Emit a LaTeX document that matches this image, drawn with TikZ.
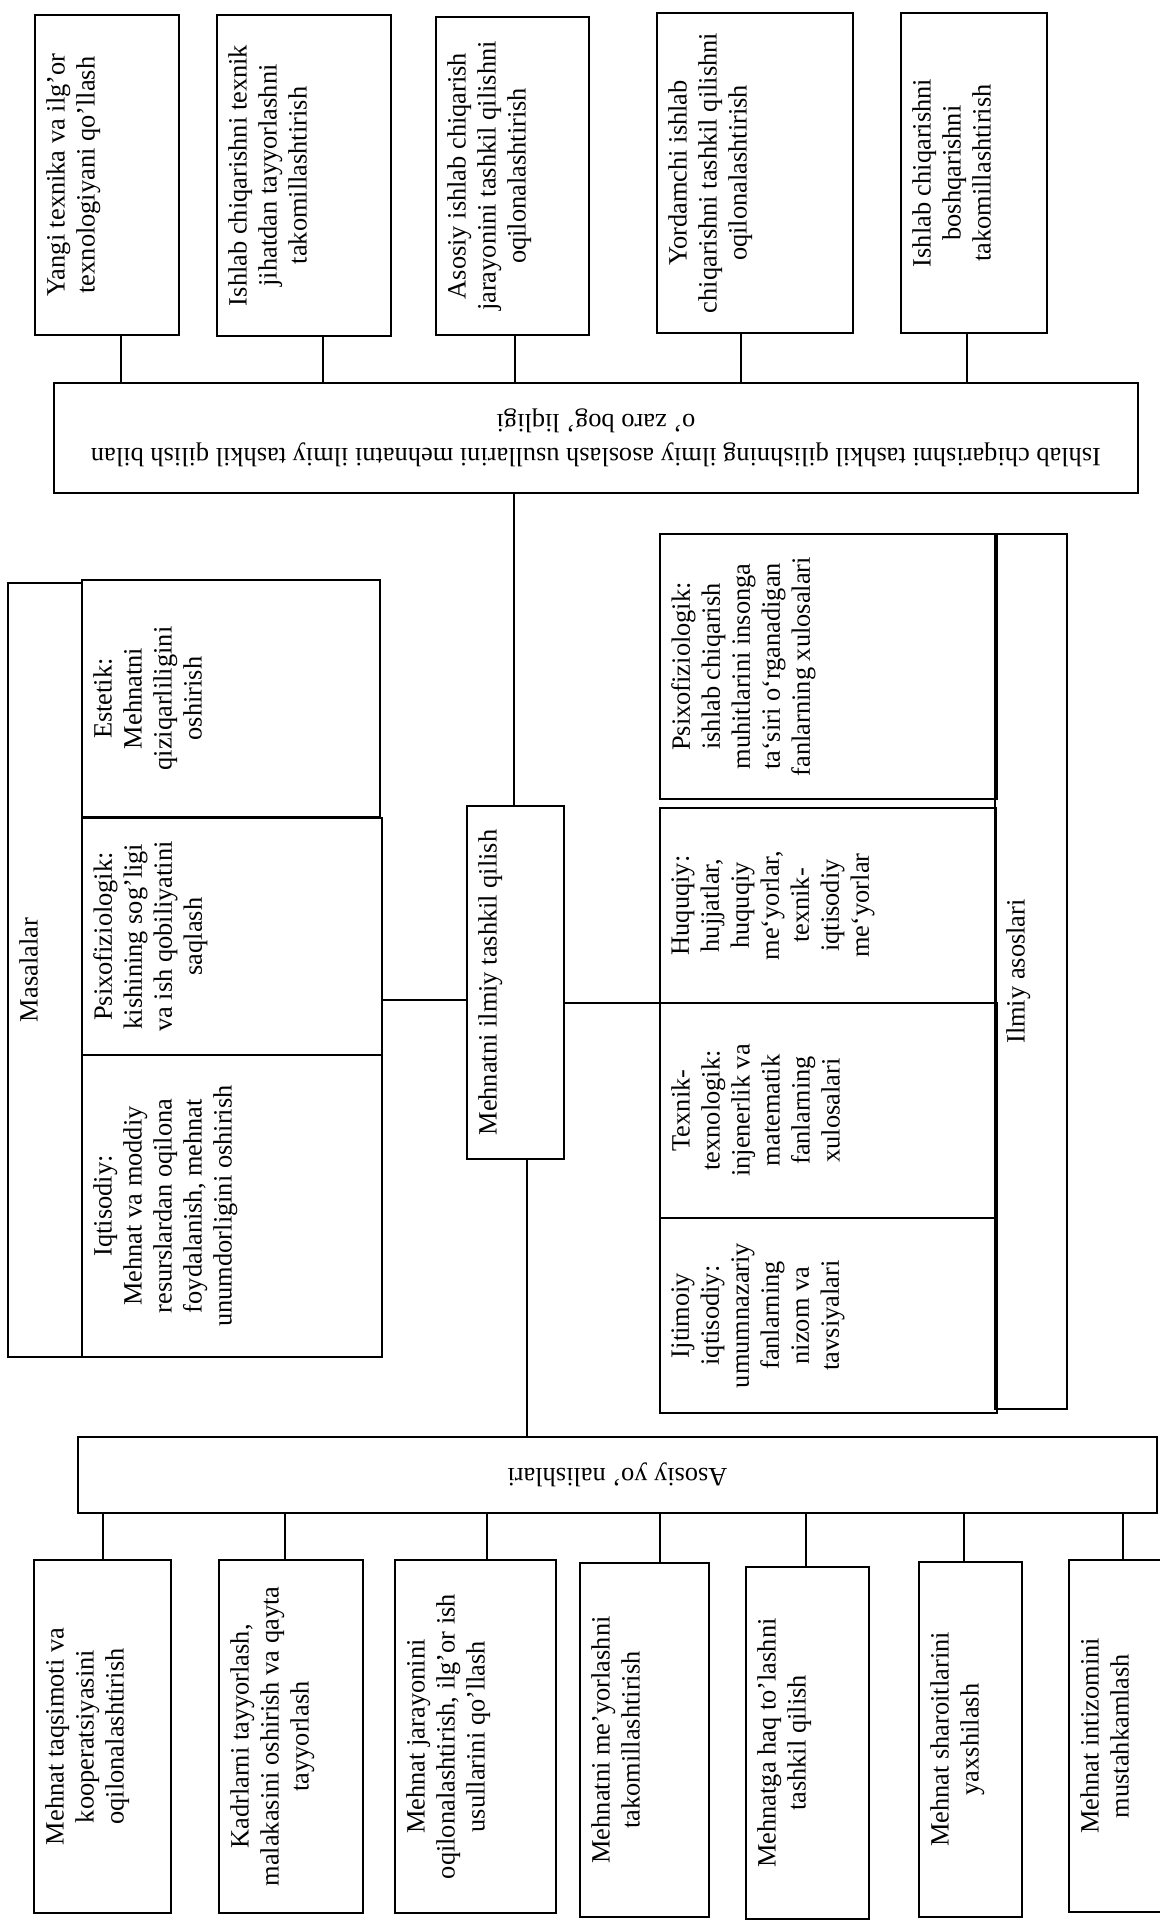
\documentclass[tikz,border=0pt]{standalone}
\usepackage{fontspec}
\setmainfont{Liberation Serif}
\usetikzlibrary{fit}
\newcommand\boxfont{\fontsize{13.2pt}{15pt}\selectfont}
\tikzset{
  frame/.style={draw, line width=1.1pt, inner sep=0pt, rectangle},
  conn/.style={line width=0.9pt},
  up/.style={rotate=90, anchor=north, align=center, inner sep=0pt, font=\boxfont},
  flip/.style={rotate=180, align=center, inner sep=0pt, font=\boxfont},
}
\begin{document}
\begin{tikzpicture}[x=0.5pt, y=-0.5pt]
\useasboundingbox (0,0) rectangle (1160,1922);
\clip (0,0) rectangle (1160,1922);

% ---- upper row of tasks
\node[frame, fit={(35,15)(179,335)}] (t1) {};
\node[frame, fit={(217,15)(391,336)}] (t2) {};
\node[frame, fit={(436,17)(589,335)}] (t3) {};
\node[frame, fit={(657,13)(853,333)}] (t4) {};
\node[frame, fit={(901,13)(1047,333)}] (t5) {};
\node[up] (t1x) at ([xshift=6pt]t1.west) {Yangi texnika va ilg’or\\texnologiyani qo’llash};
\node[up] (t2x) at ([xshift=6pt]t2.west) {Ishlab chiqarishni texnik\\jihatdan tayyorlashni\\takomillashtirish};
\node[up] (t3x) at ([xshift=6pt]t3.west) {Asosiy ishlab chiqarish\\jarayonini tashkil qilishni\\oqilonalashtirish};
\node[up] (t4x) at ([xshift=6pt]t4.west) {Yordamchi ishlab\\chiqarishni tashkil qilishni\\oqilonalashtirish};
\node[up] (t5x) at ([xshift=6pt]t5.west) {Ishlab chiqarishni\\boshqarishni\\takomillashtirish};

% ---- link box
\node[frame, fit={(54,383)(1138,493)}] (w) {};
\node[flip, font=\fontsize{13.2pt}{17pt}\selectfont] (wx) at (w.center)
  {Ishlab chiqarishni tashkil qilishning ilmiy asoslash usullarini mehnatni ilmiy tashkil qilish bilan\\o’ zaro bog’ liqligi};

% ---- central box
\node[frame, fit={(467,806)(564,1159)}] (m) {};
\node[up] (mx) at ([xshift=6pt]m.west) {Mehnatni ilmiy tashkil qilish};

% ---- tasks (Masalalar)
\node[frame, fit={(8,583)(82,1357)}] (ms) {};
\node[up] (msx) at ([xshift=6pt]ms.west) {Masalalar};
\node[frame, fit={(82,580)(380,817)}] (e1) {};
\node[frame, fit={(82,818)(382,1055)}] (e2) {};
\node[frame, fit={(82,1055)(382,1357)}] (e3) {};
\node[up] (e1x) at ([xshift=6pt]e1.west) {Estetik:\\Mehnatni\\qiziqarliligini\\oshirish};
\node[up] (e2x) at ([xshift=6pt]e2.west) {Psixofiziologik:\\kishining sog’ligi\\va ish qobiliyatini\\saqlash};
\node[up] (e3x) at ([xshift=6pt]e3.west) {Iqtisodiy:\\Mehnat va moddiy\\resurslardan oqilona\\foydalanish, mehnat\\unumdorligini oshirish};

% ---- scientific bases (Ilmiy asoslari)
\node[frame, fit={(995,534)(1067,1409)}] (ia) {};
\node[up] (iax) at ([xshift=6pt]ia.west) {Ilmiy asoslari};
\node[frame, fit={(660,534)(997,799)}] (i1) {};
\node[frame, fit={(660,808)(996,1003)}] (i2) {};
\node[frame, fit={(660,1003)(997,1218)}] (i3) {};
\node[frame, fit={(660,1218)(997,1413)}] (i4) {};
\node[up] (i1x) at ([xshift=6pt]i1.west) {Psixofiziologik:\\ishlab chiqarish\\muhitlarini insonga\\ta‘siri o‘rganadigan\\fanlarning xulosalari};
\node[up] (i2x) at ([xshift=6pt]i2.west) {Huquqiy:\\hujjatlar,\\huquqiy\\me‘yorlar,\\texnik-\\iqtisodiy\\me‘yorlar};
\node[up] (i3x) at ([xshift=6pt]i3.west) {Texnik-\\texnologik:\\injenerlik va\\matematik\\fanlarning\\xulosalari};
\node[up] (i4x) at ([xshift=6pt]i4.west) {Ijtimoiy\\iqtisodiy:\\umumnazariy\\fanlarning\\nizom va\\tavsiyalari};

% ---- main directions
\node[frame, fit={(78,1437)(1157,1513)}] (a) {};
\node[flip] (ax) at (a.center) {Asosiy yo’ nalishlari};

\node[frame, fit={(34,1560)(171,1913)}] (b1) {};
\node[frame, fit={(219,1560)(363,1913)}] (b2) {};
\node[frame, fit={(395,1560)(556,1913)}] (b3) {};
\node[frame, fit={(580,1563)(709,1917)}] (b4) {};
\node[frame, fit={(746,1567)(869,1919)}] (b5) {};
\node[frame, fit={(919,1562)(1022,1917)}] (b6) {};
\node[frame, fit={(1069,1560)(1210,1912)}] (b7) {};
\node[up] (b1x) at ([xshift=6pt]b1.west) {Mehnat taqsimoti va\\kooperatsiyasini\\oqilonalashtirish};
\node[up] (b2x) at ([xshift=6pt]b2.west) {Kadrlarni tayyorlash,\\malakasini oshirish va qayta\\tayyorlash};
\node[up] (b3x) at ([xshift=6pt]b3.west) {Mehnat jarayonini\\oqilonalashtirish, ilg’or ish\\usullarini qo’llash};
\node[up] (b4x) at ([xshift=6pt]b4.west) {Mehnatni me’yorlashni\\takomillashtirish};
\node[up] (b5x) at ([xshift=6pt]b5.west) {Mehnatga haq to’lashni\\tashkil qilish};
\node[up] (b6x) at ([xshift=6pt]b6.west) {Mehnat sharoitlarini\\yaxshilash};
\node[up] (b7x) at ([xshift=6pt]b7.west) {Mehnat intizomini\\mustahkamlash};

% ---- connector columns
\coordinate (k1) at (121,0);
\coordinate (k2) at (323,0);
\coordinate (k3) at (515,0);
\coordinate (k4) at (741,0);
\coordinate (k5) at (967,0);
\coordinate (km) at (514,0);
\coordinate (kn) at (527,0);
\coordinate (ke) at (0,1000);
\coordinate (ki) at (0,1003);
\coordinate (q1) at (103,0);
\coordinate (q2) at (285,0);
\coordinate (q3) at (487,0);
\coordinate (q4) at (660,0);
\coordinate (q5) at (806,0);
\coordinate (q6) at (964,0);
\coordinate (q7) at (1123,0);

\draw[conn] (t1.south -| k1) -- (w.north -| k1);
\draw[conn] (t2.south -| k2) -- (w.north -| k2);
\draw[conn] (t3.south -| k3) -- (w.north -| k3);
\draw[conn] (t4.south -| k4) -- (w.north -| k4);
\draw[conn] (t5.south -| k5) -- (w.north -| k5);
\draw[conn] (w.south -| km) -- (m.north -| km);
\draw[conn] (e2.east |- ke) -- (m.west |- ke);
\draw[conn] (m.east |- ki) -- (i3.west |- ki);
\draw[conn] (m.south -| kn) -- (a.north -| kn);
\draw[conn] (a.south -| q1) -- (b1.north -| q1);
\draw[conn] (a.south -| q2) -- (b2.north -| q2);
\draw[conn] (a.south -| q3) -- (b3.north -| q3);
\draw[conn] (a.south -| q4) -- (b4.north -| q4);
\draw[conn] (a.south -| q5) -- (b5.north -| q5);
\draw[conn] (a.south -| q6) -- (b6.north -| q6);
\draw[conn] (a.south -| q7) -- (b7.north -| q7);
\end{tikzpicture}
\end{document}
